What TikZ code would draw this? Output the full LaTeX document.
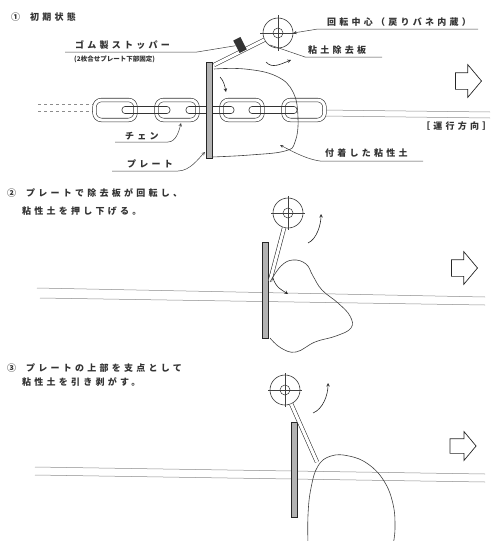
\documentclass[tikz,border=0pt]{standalone}
\usepackage{fontspec}
\newfontfamily\jp[LetterSpace=36]{Noto Sans CJK JP}
\newfontfamily\jpnarrow{Noto Sans CJK JP}
\usetikzlibrary{shapes, arrows}
\usetikzlibrary{positioning}
\tikzstyle{jtext} = [font=\jp\bfseries\fontsize{9}{11}\selectfont, text=black!80, inner sep=1pt, anchor=west]
\tikzstyle{note} = [font=\jpnarrow\bfseries\fontsize{6.5}{8}\selectfont, text=black!80, inner sep=1pt, anchor=west]
\tikzstyle{pivot} = [circle, draw=black!80, line width=0.6pt, minimum size=30pt, inner sep=0pt]
\tikzstyle{hub} = [circle, draw=black!80, line width=0.5pt, minimum size=10pt, inner sep=0pt]
\tikzstyle{plate} = [rectangle, draw=black!85, fill=black!30, line width=0.6pt, minimum width=6pt, minimum height=96pt, inner sep=0pt]
\tikzstyle{bigLink} = [rectangle, rounded corners=7pt, draw=black!80, line width=0.6pt, double=white, double distance=3pt, minimum width=41pt, minimum height=20pt, inner sep=0pt]
\tikzstyle{flatLink} = [rectangle, rounded corners=3pt, draw=black!80, line width=0.6pt, minimum width=48pt, minimum height=7pt, inner sep=0pt]
\tikzstyle{stopper} = [rectangle, fill=black!80, minimum width=8pt, minimum height=14pt, inner sep=0pt]
\tikzstyle{direction} = [single arrow, draw=black!85, line width=0.7pt, inner xsep=0pt, inner ysep=8pt, minimum height=26pt, single arrow head extend=8pt, single arrow tip angle=100]
\tikzstyle{arm} = [draw=black!80, line width=0.6pt, double=white, double distance=3pt]
\tikzstyle{rail} = [draw=black!45, line width=0.5pt]
\tikzstyle{soil} = [draw=black!75, line width=0.6pt]
\tikzstyle{leader} = [draw=black!75, line width=0.5pt]
\tikzstyle{arrow} = [draw=black!85, line width=0.6pt, ->, >=stealth]

\begin{document}
\begin{tikzpicture}[x=1pt, y=-1pt]
    \useasboundingbox (0,0) rectangle (495,541);

    % ---------- 1: initial state ----------
    \node (head1) [jtext] at (10,17) {①\hspace{10pt}初期状態};

    % rails
    \draw[rail, dashed] (38,104) -- (95,104);
    \draw[rail, dashed] (38,111) -- (95,111);
    \draw[rail] (322,110) -- (490,112);
    \draw[rail] (322,116) -- (490,118);

    % chain
    \node (link1) [bigLink] at (115,110) {};
    \node (link2) [bigLink] at (177,110) {};
    \node (link3) [bigLink] at (242,110) {};
    \node (link4) [bigLink] at (304,110) {};
    \node (flat1) [flatLink] at (146,110) {};
    \node (flat2) [flatLink] at (210,110) {};
    \node (flat3) [flatLink] at (273,110) {};

    % plate, scraper and pivot
    \node (plate1) [plate] at (209,110) {};
    \node (piv1) [pivot] at (278,33) {};
    \node (hub1) [hub] at (piv1) {};
    \draw[leader, thin] (260,33) -- (296,33);
    \draw[leader, thin] (278,15) -- (278,51);
    \coordinate (tip1) at (214,65);
    \draw[arm] (piv1) -- (tip1);
    \node (stop1) [stopper, rotate=27] at (240,45) {};

    % clay stuck on the chain
    \draw[soil] plot[smooth, tension=0.7] coordinates {(214,69) (245,69) (276,76) (293,92) (298,118) (295,142) (285,151) (250,155) (212,157)};

    % labels
    \node (stopTxt) [jtext] at (74,45) {ゴム製ストッパー};
    \node (stopSub) [note] at (73,59) {(2枚合せプレート下部固定)};
    \node (pivTxt) [jtext] at (326,22) {回転中心（戻りバネ内蔵）};
    \node (bladeTxt) [jtext] at (307,50) {粘土除去板};
    \node (dirTxt) [jtext] at (420,126) {［運行方向］};
    \node (chainTxt) [jtext] at (124,136) {チェン};
    \node (plateTxt) [jtext] at (126,164) {プレート};
    \node (clayTxt) [jtext] at (324,153) {付着した粘性土};
    \node (dir1) [direction] at (465,81) {};

    \coordinate (s1a) at (65,52);
    \coordinate (s1b) at (197,52);
    \coordinate (p1a) at (318,29);
    \coordinate (p1b) at (478,29);
    \coordinate (b1s) at (270,45);
    \coordinate (b1a) at (305,57);
    \coordinate (b1b) at (382,57);
    \coordinate (c1a) at (115,142);
    \coordinate (c1b) at (168,142);
    \coordinate (c1t) at (181,123);
    \coordinate (l1a) at (112,171);
    \coordinate (l1b) at (178,171);
    \coordinate (l1t) at (205,152);
    \coordinate (g1a) at (320,161);
    \coordinate (g1b) at (423,161);
    \coordinate (g1t) at (280,145);
    \coordinate (r1a) at (266,62);
    \coordinate (r1b) at (291,60);
    \coordinate (m1a) at (220,77);
    \coordinate (m1b) at (226,92);

    % leaders and arrows
    \draw[leader] (s1a) -- (s1b) -- (stop1);
    \draw[leader, <-, >=stealth] (piv1.east) -- (p1a) -- (p1b);
    \draw[leader] (b1s) -- (b1a) -- (b1b);
    \draw[leader, ->, >=stealth] (c1a) -- (c1b) .. controls +(8,0) and +(-2,8) .. (c1t);
    \draw[leader, ->, >=stealth] (l1a) -- (l1b) .. controls +(12,0) and +(-6,6) .. (l1t);
    \draw[leader, ->, >=stealth] (g1b) -- (g1a) .. controls +(-15,-2) and +(8,4) .. (g1t);
    \draw[arrow] (r1a) .. controls +(6,7) and +(-10,4) .. (r1b);
    \draw[arrow] (m1a) .. controls +(4,4) and +(-1,-5) .. (m1b);

    % ---------- 2: blade turns ----------
    \node (head2) [jtext] at (6,193) {②\hspace{10pt}プレートで除去板が回転し、};
    \node (head2b) [jtext] at (21,211) {粘性土を押し下げる。};

    \draw[rail] (37,288) -- (485,297);
    \draw[rail] (40,298) -- (485,305);

    \node (plate2) [plate] at (265,290) {};
    \node (piv2) [pivot] at (288,213) {};
    \node (hub2) [hub] at (piv2) {};
    \draw[leader, thin] (271,213) -- (305,213);
    \draw[leader, thin] (288,196) -- (288,230);
    \coordinate (tip2) at (270,281);
    \draw[arm] (piv2) -- (tip2);

    \draw[soil] plot[smooth, tension=0.7] coordinates {(270,282) (281,266) (293,260) (306,264) (313,276) (322,290) (338,303) (350,316) (351,328) (336,336) (315,342) (296,352) (281,348) (270,338)};

    \node (dir2) [direction] at (461,268) {};
    \coordinate (r2a) at (308,243);
    \coordinate (r2b) at (321,214);
    \coordinate (m2a) at (273,278);
    \coordinate (m2b) at (288,294);
    \draw[arrow] (r2a) .. controls +(9,-4) and +(0,10) .. (r2b);
    \draw[arrow] (m2a) .. controls +(3,10) and +(-6,-4) .. (m2b);

    % ---------- 3: clay peeled off ----------
    \node (head3) [jtext] at (6,368) {③\hspace{10pt}プレートの上部を支点として};
    \node (head3b) [jtext] at (21,382) {粘性土を引き剥がす。};

    \draw[rail] (35,467) -- (485,474);
    \draw[rail] (35,475) -- (485,482);

    \node (plate3) [plate, minimum height=95pt] at (294.5,469.5) {};
    \node (piv3) [pivot] at (285,390) {};
    \node (hub3) [hub] at (piv3) {};
    \draw[leader, thin] (268,390) -- (302,390);
    \draw[leader, thin] (285,373) -- (285,407);
    \coordinate (tip3) at (317,462);
    \draw[arm] (piv3) -- (tip3);

    \draw[soil] plot[smooth, tension=0.7] coordinates {(308,545) (308,515) (311,488) (318,466) (331,456) (349,456) (368,464) (384,481) (393,504) (395,528) (393,545)};

    \node (dir3) [direction, inner ysep=7pt, single arrow head extend=7pt] at (460,446) {};
    \coordinate (r3a) at (313,413);
    \coordinate (r3b) at (328,383);
    \draw[arrow] (r3a) .. controls +(10,-4) and +(0,12) .. (r3b);

\end{tikzpicture}
\end{document}
